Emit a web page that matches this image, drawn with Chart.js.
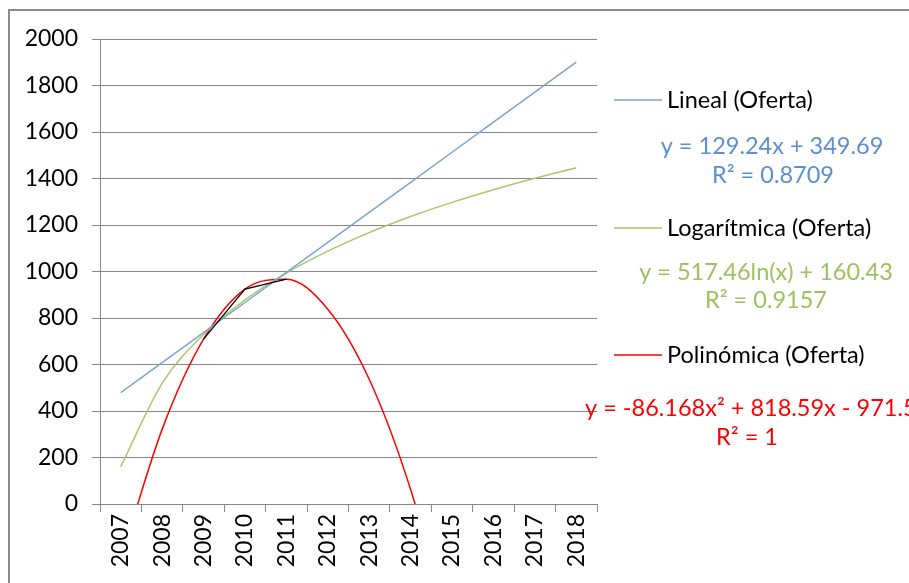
<!DOCTYPE html>
<html>
<head>
<meta charset="utf-8">
<script src="https://cdn.jsdelivr.net/npm/chart.js@4/dist/chart.umd.min.js"></script>
<style>
  body { margin: 0; background: #fff; }
  #wrap { width: 909px; height: 583px; position: relative; }
</style>
</head>
<body>
<div id="wrap"><canvas id="chart"></canvas></div>
<script>
const years = ['2007','2008','2009','2010','2011','2012','2013','2014','2015','2016','2017','2018'];

// Oferta (only three years have data)
const oferta = [null, null, 708.7, 924.1, 967.2, null, null, null, null, null, null, null];

// trendline values, one per year
const lineal = [478.9, 608.2, 737.4, 866.7, 995.9, 1125.1, 1254.4, 1383.6, 1512.9, 1642.1, 1771.3, 1900.6];
const logaritmica = [160.4, 519.1, 728.9, 877.8, 993.3, 1087.6, 1167.4, 1236.5, 1297.4, 1351.9, 1401.3, 1446.3];
const polinomica = [-239.1, 321.0, 708.7, 924.1, 967.2, 837.9, 536.4, 62.4, -584.0, null, null, null];

const trendNames = ['Lineal (Oferta)', 'Logarítmica (Oferta)', 'Polinómica (Oferta)'];
const trendEquations = ['y = 129.24x + 349.69', 'y = 517.46ln(x) + 160.43', 'y = -86.168x² + 818.59x - 971.56'];
const trendR2 = ['R² = 0.8709', 'R² = 0.9157', 'R² = 1'];

const FONT = 'Lato, "Open Sans", sans-serif';
const GRID = '#868686';

// legend and equation labels, Excel style
const sideText = {
    id: 'sideText',
    beforeDraw(chart) {
        const ctx = chart.ctx;
        ctx.save();
        ctx.strokeStyle = '#8c8c8c';
        ctx.lineWidth = 2;
        ctx.beginPath();
        ctx.moveTo(9, 600);
        ctx.lineTo(9, 10);
        ctx.lineTo(920, 10);
        ctx.stroke();
        ctx.restore();
    },
    afterDraw(chart) {
        const ctx = chart.ctx;
        const lineCols = ['#7ba3d6', '#a9c66d', '#ff0000'];
        const textCols = ['#5b8fd0', '#9bc25f', '#ff0000'];
        const rowY = [100, 228, 355];
        const eqY = [146, 272, 408];
        const eqX = [772, 766, 585];
        const r2X = [773, 766, 747];
        const r2Y = [175, 300, 437];
        ctx.save();
        ctx.font = '23.5px ' + FONT;
        ctx.textBaseline = 'middle';
        for (let i = 0; i < trendNames.length; i++) {
            ctx.strokeStyle = lineCols[i];
            ctx.lineWidth = 1.5;
            ctx.beginPath();
            ctx.moveTo(614, rowY[i]);
            ctx.lineTo(662, rowY[i]);
            ctx.stroke();
            ctx.fillStyle = '#000';
            ctx.textAlign = 'left';
            ctx.fillText(trendNames[i], 667, rowY[i]);
            ctx.fillStyle = textCols[i];
            ctx.textAlign = i === 2 ? 'left' : 'center';
            ctx.fillText(trendEquations[i], eqX[i], eqY[i]);
            ctx.textAlign = 'center';
            ctx.fillText(trendR2[i], r2X[i], r2Y[i]);
        }
        ctx.restore();
    }
};

new Chart(document.getElementById('chart'), {
    type: 'line',
    data: {
        labels: years,
        datasets: [
            { label: 'Oferta', data: oferta, borderColor: '#000', borderWidth: 1.2, pointRadius: 0, tension: 0 },
            { label: trendNames[0], data: lineal, borderColor: '#7ba3d6', borderWidth: 1.5, pointRadius: 0, tension: 0 },
            { label: trendNames[1], data: logaritmica, borderColor: '#a9c66d', borderWidth: 1.5, pointRadius: 0, cubicInterpolationMode: 'monotone' },
            { label: trendNames[2], data: polinomica, borderColor: '#ff0000', borderWidth: 1.5, pointRadius: 0, cubicInterpolationMode: 'monotone' }
        ]
    },
    options: {
        responsive: true,
        maintainAspectRatio: false,
        animation: false,
        layout: { padding: { top: 39, right: 312, left: 0, bottom: 0 } },
        plugins: { legend: { display: false }, tooltip: { enabled: false } },
        scales: {
            x: {
                offset: true,
                grid: { offset: true, drawOnChartArea: false, drawTicks: true, tickLength: 8, color: GRID },
                border: { display: true, color: GRID },
                ticks: { maxRotation: 90, minRotation: 90, autoSkip: false, padding: 2, color: '#000', font: { family: FONT, size: 23 } },
                afterFit(scale) { scale.height = 79; }
            },
            y: {
                min: 0,
                max: 2000,
                ticks: { stepSize: 200, padding: 14, color: '#000', font: { family: FONT, size: 23 },
                    callback: v => String(v) },
                grid: { color: GRID, tickLength: 8 },
                border: { display: true, color: GRID },
                afterFit(scale) { scale.width = 100; }
            }
        }
    },
    plugins: [sideText]
});
</script>
</body>
</html>
